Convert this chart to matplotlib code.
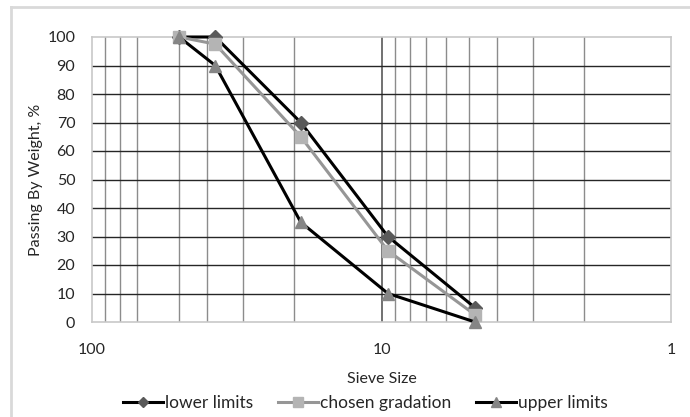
import matplotlib.pyplot as plt
from matplotlib.lines import Line2D

plt.rcParams['font.family'] = ['Lato', 'DejaVu Sans']

# sieve sizes (mm) and % passing
sieve = [50, 37.5, 19, 9.5, 4.75]
lower = [100, 100, 70, 30, 5]
chosen = [100, 97.5, 65, 25, 2.5]
upper = [100, 90, 35, 10, 0]

# vertical grid as drawn in the source (no line at 60)
minor_grid = [90, 80, 70, 50, 40, 30, 20, 9, 8, 7, 6, 5, 4, 3, 2]
major_grid = [10]

fig = plt.figure(figsize=(6.9, 4.17), dpi=100)
# light outer frame of the chart
fig.add_artist(Line2D([11/690, 11/690], [0, 1 - 7/417], color='#d9d9d9', lw=2))
fig.add_artist(Line2D([11/690, 1], [1 - 7/417, 1 - 7/417], color='#d9d9d9', lw=2))

ax = fig.add_axes([92/690, 95/417, 579/690, 285/417])
ax.set_xscale('log')
ax.set_xlim(100, 1)
ax.set_ylim(0, 100)

for v in minor_grid:
    ax.axvline(v, color='#8c8c8c', lw=1.0, zorder=0)
for v in major_grid:
    ax.axvline(v, color='#595959', lw=1.2, zorder=0)
for h in range(10, 100, 10):
    ax.axhline(h, color='#262626', lw=1.0, zorder=0)

for s in ax.spines.values():
    s.set_color('#c8c8c8')
    s.set_linewidth(1.2)

ax.set_xticks([100, 10, 1])
ax.set_xticklabels(['100', '10', '1'])
ax.minorticks_off()
ax.set_yticks(range(0, 101, 10))
ax.tick_params(length=0, labelsize=11.5, colors='#262626')
ax.tick_params(axis='x', pad=15)
ax.tick_params(axis='y', pad=12)

ax.plot(sieve, lower, color='black', lw=2.2, marker='D', ms=7,
        mfc='#595959', mec='#595959', label='lower limits', zorder=3, clip_on=False)
ax.plot(sieve, chosen, color='#969696', lw=2.2, marker='s', ms=9,
        mfc='#b4b4b4', mec='#b4b4b4', label='chosen gradation', zorder=3, clip_on=False)
ax.plot(sieve, upper, color='black', lw=2.2, marker='^', ms=9,
        mfc='#858585', mec='#858585', label='upper limits', zorder=3, clip_on=False)

ax.set_xlabel('Sieve Size', fontsize=11.5, color='#262626', labelpad=11)
ax.set_ylabel('Passing By Weight, %', fontsize=11.5, color='#262626', labelpad=3)

ax.legend(loc='center', bbox_to_anchor=(0.472, -0.285), ncol=3, frameon=False,
          fontsize=12.5, handlelength=2.3, handletextpad=0.15, columnspacing=1.4,
          markerscale=0.8, labelcolor='#262626')

fig.savefig('out.png', dpi=100)
